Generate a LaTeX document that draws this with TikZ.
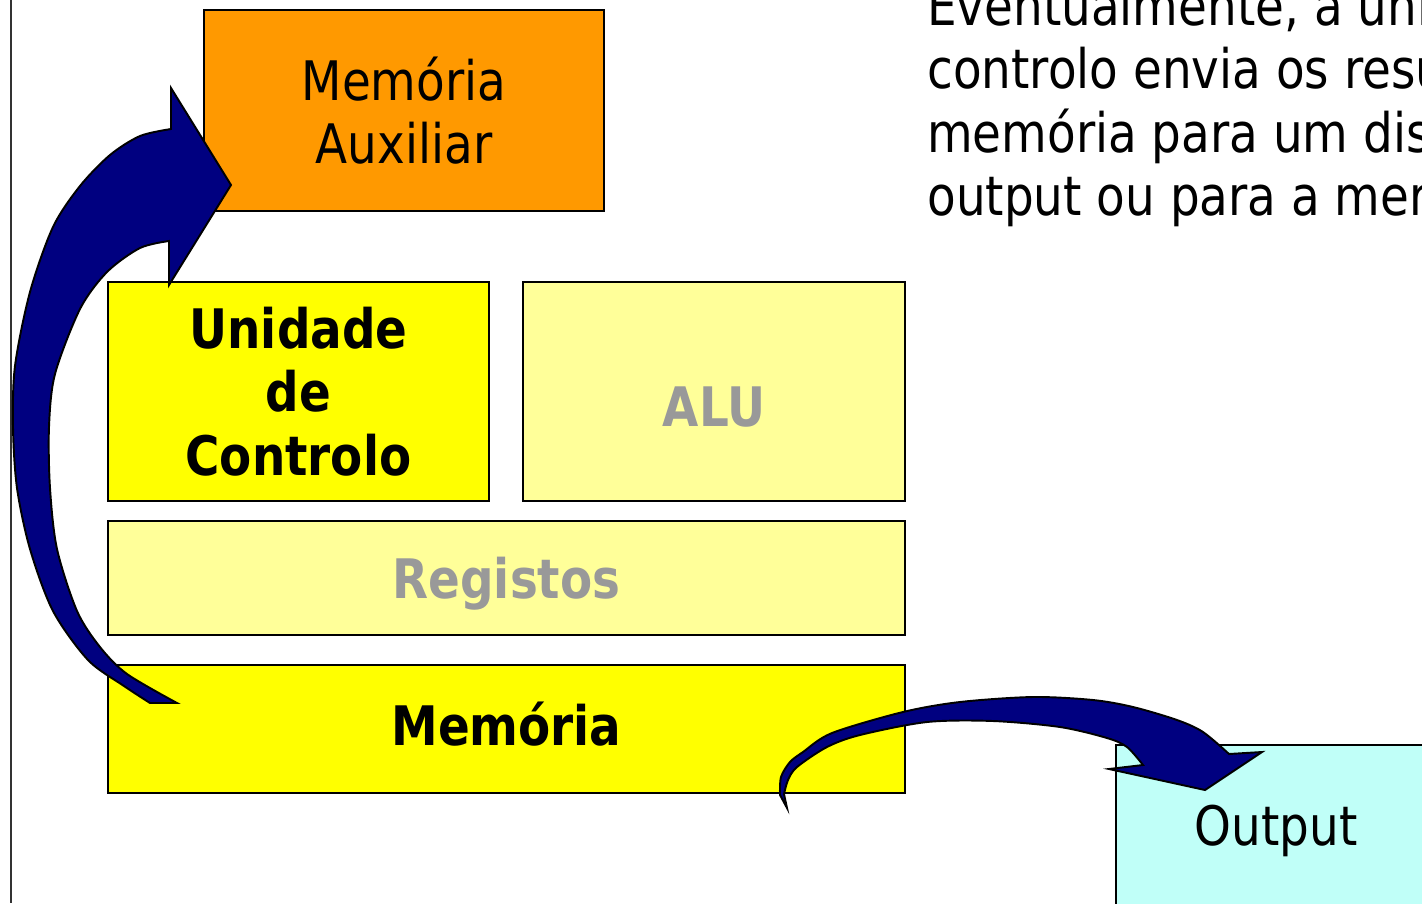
\documentclass[tikz,border=0pt]{standalone}
\usepackage{fontspec}
\setmainfont{DejaVu Sans}[FakeStretch=0.86]

\definecolor{auxorange}{HTML}{FF9900}
\definecolor{unityellow}{HTML}{FFFF00}
\definecolor{paleyellow}{HTML}{FFFF99}
\definecolor{outcyan}{HTML}{C0FFF8}
\definecolor{arrownavy}{HTML}{000080}
\definecolor{dimtext}{HTML}{999999}

\tikzset{
  block/.style={draw=black, line width=1.1pt, inner sep=0pt, align=center,
    font=\fontsize{31}{36.3}\selectfont},
  bigarrow/.style={draw=black, fill=arrownavy, line width=1.1pt, line join=miter},
  slidetext/.style={anchor=base west, inner sep=0pt, font=\fontsize{31}{36.3}\selectfont},
}

\begin{document}
\begin{tikzpicture}[x=0.02cm, y=-0.02cm]
      \useasboundingbox (0,0) rectangle (1422,903);
      \clip (0,0) rectangle (1422,903);

      % left margin rule
      \draw[line width=0.85pt, black!80] (11,0) -- (11,903);

      \node[block, fill=auxorange, minimum width=8cm, minimum height=4.02cm] (auxmem) at (404,110.5) {Memória\\ Auxiliar} ;
      \node[block, fill=unityellow, minimum width=7.62cm, minimum height=4.38cm, font=\fontsize{31}{36.3}\selectfont\bfseries] (ctrl) at (298.5,391.5) {Unidade\\ de\\ Controlo} ;
      \node[block, fill=paleyellow, text=dimtext, minimum width=7.64cm, minimum height=4.38cm, text height=39.6pt, text depth=0pt, font=\fontsize{31}{36.3}\selectfont\bfseries] (alu) at (714,391.5) {ALU} ;
      \node[block, fill=paleyellow, text=dimtext, minimum width=15.94cm, minimum height=2.28cm, text height=23pt, text depth=0pt, font=\fontsize{31}{36.3}\selectfont\bfseries] (regs) at (506.5,578) {Registos} ;
      \node[block, fill=unityellow, minimum width=15.94cm, minimum height=2.56cm, text height=24pt, text depth=5pt, font=\fontsize{31}{36.3}\selectfont\bfseries] (mem) at (506.5,729) {Memória} ;
      \node[block, fill=outcyan, minimum width=6.4cm, minimum height=3.32cm, text height=23pt, text depth=3pt] (output) at (1276,828) {Output} ;

      % slide text (cut by the page edge)
      \node[slidetext] (txtA) at (927,25) {Eventualmente, a uni} ;
      \node[slidetext] (txtB) at (927,88) {controlo envia os resu} ;
      \node[slidetext] (txtC) at (927,152) {memória para um dis} ;
      \node[slidetext] (txtD) at (927,215) {output ou para a mer} ;

      % memoria -> memoria auxiliar
      \coordinate (memTail) at (177,703) ;
      \coordinate (auxTip) at (231,185) ;
      \filldraw[bigarrow] (memTail) -- (150,703)
        -- plot[smooth] coordinates {(150,703) (124,686) (88,660) (53,611) (30,549) (17,488) (13,427) (15,366) (30,292) (53,227) (80,186) (110,155) (140,136) (171,129)}
        -- (171,88) -- (auxTip) -- (169,285) -- (169,241)
        -- plot[smooth] coordinates {(169,241) (140,248) (107,272) (80,309) (55,374) (49,427) (50,488) (57,549) (77,611) (100,647) (127,674) (177,703)}
        -- cycle ;

      % memoria -> output
      \coordinate (outTail) at (787,808) ;
      \coordinate (outTip) at (1205,790) ;
      \filldraw[bigarrow] (outTail) -- (780,795)
        -- plot[smooth] coordinates {(780,795) (781,777) (790,762) (803,752) (832,733) (903,712) (960,702) (1033,697) (1093,700) (1133,707) (1177,720) (1203,732) (1229,754)}
        -- (1262,752) -- (outTip) -- (1109,769) -- (1143,765)
        -- plot[smooth] coordinates {(1143,765) (1127,747) (1107,738) (1060,727) (993,721) (927,722) (860,735) (827,747) (797,767) (788,780) (784,794)}
        -- cycle ;

\end{tikzpicture}
\end{document}
